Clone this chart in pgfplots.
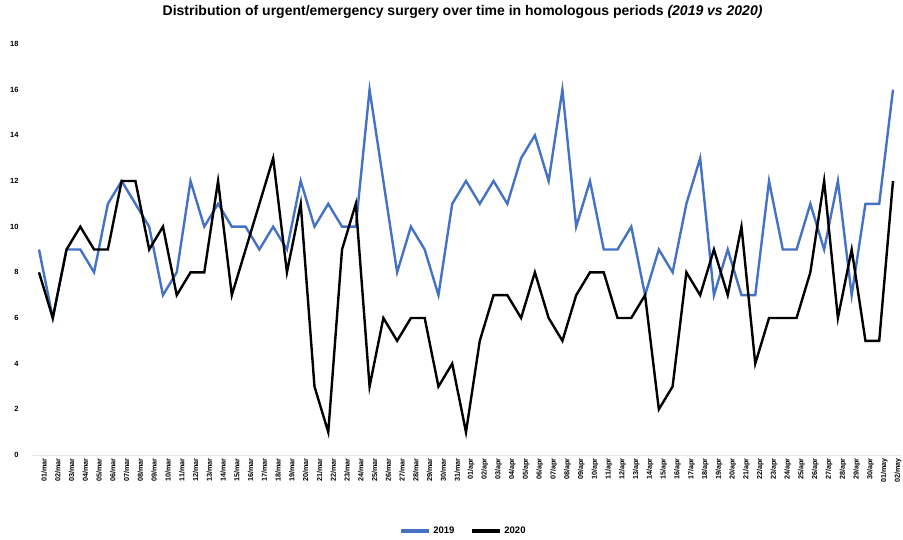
\documentclass[border=0pt]{standalone}
\usepackage{pgfplots}
\usepackage{pgfplotstable}
\pgfplotsset{compat=1.18}
\usepackage{fontspec}
\setmainfont{Liberation Sans}
\definecolor{blue19}{RGB}{68,114,196}

\pgfplotstableread{
x y2019 y2020
0 9 8
1 6 6
2 9 9
3 9 10
4 8 9
5 11 9
6 12 12
7 11 12
8 10 9
9 7 10
10 8 7
11 12 8
12 10 8
13 11 12
14 10 7
15 10 9
16 9 11
17 10 13
18 9 8
19 12 11
20 10 3
21 11 1
22 10 9
23 10 11
24 16 3
25 12 6
26 8 5
27 10 6
28 9 6
29 7 3
30 11 4
31 12 1
32 11 5
33 12 7
34 11 7
35 13 6
36 14 8
37 12 6
38 16 5
39 10 7
40 12 8
41 9 8
42 9 6
43 10 6
44 7 7
45 9 2
46 8 3
47 11 8
48 13 7
49 7 9
50 9 7
51 7 10
52 7 4
53 12 6
54 9 6
55 9 6
56 11 8
57 9 12
58 12 6
59 7 9
60 11 5
61 11 5
62 16 12
}\datatable

\begin{document}
\begin{tikzpicture}
\begin{axis}[
  scale only axis, width=854pt, height=411pt,
  xmin=0, xmax=62, ymin=0, ymax=18,
  ytick={0,2,...,18},
  xtick={0,...,62},
  xticklabels={01/mar,02/mar,03/mar,04/mar,05/mar,06/mar,07/mar,08/mar,09/mar,10/mar,11/mar,12/mar,13/mar,14/mar,15/mar,16/mar,17/mar,18/mar,19/mar,20/mar,21/mar,22/mar,23/mar,24/mar,25/mar,26/mar,27/mar,28/mar,29/mar,30/mar,31/mar,01/apr,02/apr,03/apr,04/apr,05/apr,06/apr,07/apr,08/apr,09/apr,10/apr,11/apr,12/apr,13/apr,14/apr,15/apr,16/apr,17/apr,18/apr,19/apr,20/apr,21/apr,22/apr,23/apr,24/apr,25/apr,26/apr,27/apr,28/apr,29/apr,30/apr,01/may,02/may},
  xticklabel style={rotate=90, anchor=east, yshift=-5pt, font=\bfseries\fontsize{7.2}{8}\selectfont},
  yticklabel style={xshift=-17pt, font=\bfseries\fontsize{7.5}{9}\selectfont},
  /pgf/number format/assume math mode=true,
  axis line style={draw=none},
  major tick length=0pt,
  clip=false,
  title={Distribution of urgent/emergency surgery over time in homologous periods \textit{(2019 vs 2020)}},
  title style={at={(0.496,1)}, anchor=center, yshift=26pt, font=\bfseries\fontsize{14}{16}\selectfont},
  legend style={at={(0.497,-0.185)}, anchor=center, draw=none, legend columns=2,
    font=\bfseries\fontsize{9.5}{11}\selectfont,
    /tikz/every even column/.append style={column sep=14pt}},
  legend image code/.code={\draw[#1, line width=4pt] (0pt,0pt) -- (28pt,0pt);},
]
\draw[black!10, line width=1pt] (axis cs:-0.5,0) -- (axis cs:62.6,0);
\addplot[blue19, line width=2.4pt, no markers] table[x=x, y=y2019] {\datatable};
\addlegendentry{2019}
\addplot[black, line width=2.4pt, no markers] table[x=x, y=y2020] {\datatable};
\addlegendentry{2020}
\end{axis}
\pgfresetboundingbox
\path[use as bounding box] ([shift={(-39pt,-84pt)}]current axis.south west) rectangle ([shift={(864pt,455pt)}]current axis.south west);
\end{tikzpicture}
\end{document}
